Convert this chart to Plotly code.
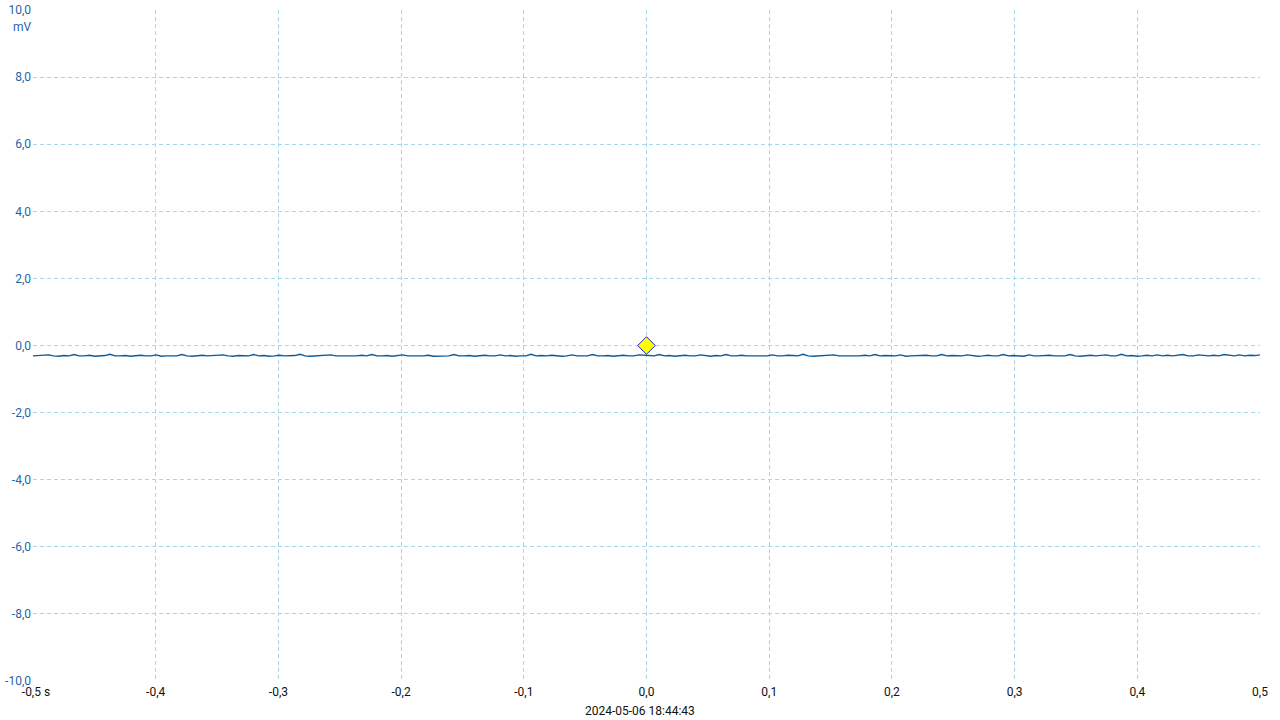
import numpy as np
import plotly.graph_objects as go

# Time range (s) and sampled voltage (mV)
t_start, t_end = -0.5, 0.5
voltage_mV = [
    -0.31,-0.30,-0.31,-0.28,-0.31,-0.32,-0.30,-0.31,-0.27,-0.31,-0.31,-0.29,-0.32,-0.31,-0.30,-0.26,-0.31,-0.31,-0.30,-0.32,
    -0.31,-0.29,-0.31,-0.31,-0.28,-0.32,-0.31,-0.30,-0.31,-0.27,-0.31,-0.32,-0.31,-0.29,-0.31,-0.30,-0.31,-0.28,-0.31,-0.32,
    -0.30,-0.31,-0.31,-0.27,-0.31,-0.30,-0.32,-0.31,-0.29,-0.31,-0.31,-0.30,-0.26,-0.31,-0.32,-0.31,-0.30,-0.31,-0.28,-0.31,
    -0.31,-0.32,-0.30,-0.31,-0.29,-0.31,-0.27,-0.31,-0.31,-0.30,-0.32,-0.31,-0.28,-0.31,-0.30,-0.31,-0.31,-0.29,-0.32,-0.31,
    -0.30,-0.31,-0.27,-0.31,-0.31,-0.30,-0.32,-0.31,-0.29,-0.31,-0.31,-0.28,-0.31,-0.30,-0.32,-0.31,-0.31,-0.26,-0.31,-0.30,
    -0.31,-0.29,-0.31,-0.32,-0.31,-0.28,-0.31,-0.30,-0.31,-0.27,-0.31,-0.31,-0.30,-0.32,-0.31,-0.29,-0.31,-0.31,-0.28,-0.30,
    -0.30,-0.31,-0.27,-0.31,-0.30,-0.32,-0.31,-0.29,-0.31,-0.31,-0.28,-0.31,-0.32,-0.30,-0.31,-0.27,-0.31,-0.31,-0.29,-0.31,
    -0.31,-0.30,-0.32,-0.31,-0.28,-0.31,-0.31,-0.29,-0.30,-0.31,-0.26,-0.31,-0.32,-0.31,-0.30,-0.31,-0.28,-0.31,-0.31,-0.30,
    -0.32,-0.31,-0.29,-0.31,-0.27,-0.31,-0.30,-0.31,-0.31,-0.28,-0.32,-0.31,-0.30,-0.31,-0.29,-0.31,-0.31,-0.27,-0.31,-0.30,
    -0.31,-0.31,-0.28,-0.30,-0.32,-0.31,-0.29,-0.31,-0.31,-0.27,-0.31,-0.30,-0.31,-0.32,-0.28,-0.31,-0.31,-0.30,-0.29,-0.31,
    -0.30,-0.31,-0.27,-0.31,-0.32,-0.31,-0.29,-0.31,-0.30,-0.28,-0.31,-0.31,-0.26,-0.31,-0.30,-0.32,-0.31,-0.29,-0.31,-0.28,
    -0.31,-0.29,-0.31,-0.30,-0.27,-0.31,-0.31,-0.28,-0.30,-0.31,-0.29,-0.31,-0.27,-0.30,-0.31,-0.28,-0.31,-0.29,-0.30,-0.28,
]
trigger_t = [0.0]
trigger_v = [0.0]

x_ticks = [-0.5, -0.4, -0.3, -0.2, -0.1, 0.0, 0.1, 0.2, 0.3, 0.4, 0.5]
x_ticktext = ["&nbsp;&nbsp;-0,5 s", "-0,4", "-0,3", "-0,2", "-0,1", "0,0", "0,1", "0,2", "0,3", "0,4", "0,5"]
y_ticks = [-10, -8, -6, -4, -2, 0, 2, 4, 6, 8, 10]
y_ticktext = ["-10,0", "-8,0", "-6,0", "-4,0", "-2,0", "0,0", "2,0", "4,0", "6,0", "8,0", "10,0"]
timestamp = "2024-05-06 18:44:43"
unit_y = "mV"

t = np.linspace(t_start, t_end, len(voltage_mV))

grid_color = "#a3d9e8"
fig = go.Figure()
fig.add_trace(go.Scatter(x=t, y=voltage_mV, mode="lines",
                         line=dict(color="#0a5a9c", width=1.4), showlegend=False, hoverinfo="skip"))
fig.add_trace(go.Scatter(x=trigger_t, y=trigger_v, mode="markers",
                         marker=dict(symbol="diamond", size=13.5, color="#ffff00",
                                     line=dict(color="#1a1ad8", width=1)),
                         showlegend=False, hoverinfo="skip", cliponaxis=False))

fig.update_layout(
    width=1280, height=720,
    margin=dict(l=33, r=20, t=10, b=39),
    paper_bgcolor="white", plot_bgcolor="white",
    font=dict(family="Roboto", size=12, color="#222222"),
    xaxis=dict(range=[t_start, t_end], tickvals=x_ticks, ticktext=x_ticktext, automargin=False,
               showgrid=True, gridcolor=grid_color, griddash="4px,3px", gridwidth=1,
               zeroline=False, showline=False, ticks="", ticklabelstandoff=2,
               tickfont=dict(color="#111111", size=12)),
    yaxis=dict(range=[-10, 10], tickvals=y_ticks, ticktext=y_ticktext, automargin=False,
               showgrid=True, gridcolor=grid_color, griddash="4px,3px", gridwidth=1,
               zeroline=False, showline=False, ticks="", ticklabelstandoff=1,
               tickfont=dict(color="#1f63a6", size=12)),
    annotations=[
        dict(text=unit_y, xref="paper", yref="paper", x=0, y=1, xanchor="right", yanchor="top",
             yshift=-8, xshift=1, showarrow=False, font=dict(color="#1f63a6", size=12)),
        dict(text=timestamp, xref="paper", yref="paper", x=0.5, y=0, xanchor="center", yanchor="top",
             yshift=-21, xshift=-7, showarrow=False, font=dict(color="#111111", size=12)),
    ],
)
fig.write_html("out.html", config={"displayModeBar": False},
               post_script="document.body.style.margin='0';document.body.style.padding='0';")
